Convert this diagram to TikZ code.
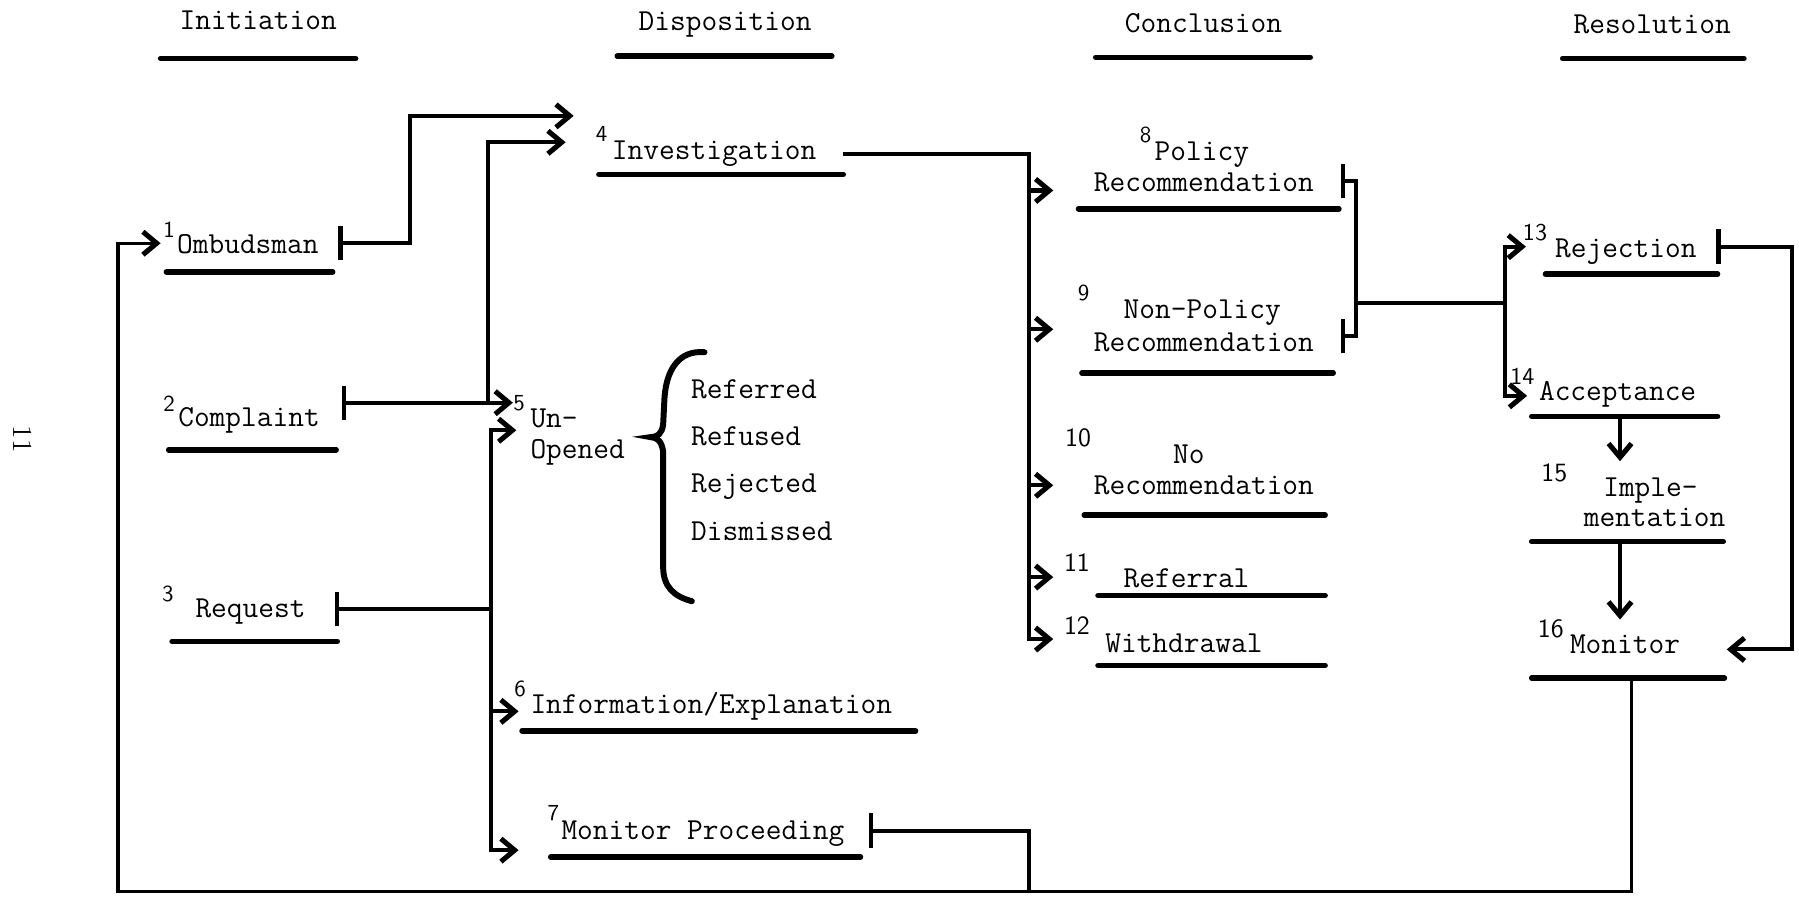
\documentclass[tikz,border=0pt]{standalone}
\usetikzlibrary{arrows.meta}
\begin{document}
\begin{tikzpicture}[x=0.5pt,y=-0.5pt,
  lbl/.style={anchor=base west,inner sep=0pt,font=\ttfamily\fontsize{13.3}{16}\selectfont},
  hdr/.style={anchor=base,inner sep=0pt,font=\ttfamily\fontsize{13.3}{16}\selectfont},
  sup/.style={anchor=base west,inner sep=0pt,font=\sffamily\fontsize{10}{12}\selectfont},
  bnum/.style={anchor=base west,inner sep=0pt,font=\sffamily\fontsize{11.5}{14}\selectfont},
  uline/.style={line width=2.4pt,line cap=round},
  conn/.style={line width=1.8pt},
  arr/.style={conn,-{Straight Barb[length=6pt,width=10pt,line width=2.2pt]}},
  arrboth/.style={conn,{Straight Barb[length=6pt,width=10pt,line width=2.2pt]}-{Straight Barb[length=6pt,width=10pt,line width=2.2pt]}},
  tee/.style={conn,{Bar[width=15pt]}-},
  teearr/.style={conn,{Bar[width=15pt]}-{Straight Barb[length=6pt,width=10pt,line width=2.2pt]}},
  teetee/.style={conn,{Bar[width=15pt]}-{Bar[width=15pt]}},
]
\useasboundingbox (0,0) rectangle (1568,781);

% page number
\node[inner sep=0pt,rotate=-90,font=\rmfamily\fontsize{12}{14}\selectfont] (pnum) at (20,383) {11};

% headers
\node[hdr] (hInit) at (225,26) {Initiation};
\node[hdr] (hDisp) at (632,27) {Disposition};
\node[hdr] (hConc) at (1049,28) {Conclusion};
\node[hdr] (hRes)  at (1440,29) {Resolution};
\draw[uline] (140,51) -- (310,51);
\draw[uline] (538,49) -- (725,49);
\draw[uline] (955,50) -- (1142,50);
\draw[uline] (1362,51) -- (1520,51);

% Initiation
\node[sup] (s1) at (142,207) {1};
\node[lbl] (n1) at (154,221) {Ombudsman};
\draw[uline] (145,237) -- (290,237);
\node[sup] (s2) at (142,359) {2};
\node[lbl] (n2) at (155,372) {Complaint};
\draw[uline] (147,392) -- (293,392);
\node[sup] (s3) at (141,524) {3};
\node[lbl] (n3) at (170,538) {Request};
\draw[uline] (150,559) -- (294,559);

% Disposition
\node[sup] (s4) at (519,123) {4};
\node[lbl] (n4) at (533,139) {Investigation};
\draw[uline] (522,152) -- (735,152);
\node[sup] (s5) at (447,358) {5};
\node[lbl] (n5a) at (462,373) {Un-};
\node[lbl] (n5b) at (462,400) {Opened};
\node[lbl] (r1) at (602,347) {Referred};
\node[lbl] (r2) at (602,388) {Refused};
\node[lbl] (r3) at (602,429) {Rejected};
\node[lbl] (r4) at (602,471) {Dismissed};
\draw[line width=2.6pt,line cap=round]
  (614,307) .. controls (592,305) and (580,322) .. (579,350) -- (578,370)
  .. controls (577,378) and (573,381) .. (567,381)
  .. controls (573,381) and (577,385) .. (578,394) -- (578,494)
  .. controls (578,512) and (588,520) .. (603,524);
\node[sup] (s6) at (448,607) {6};
\node[lbl] (n6) at (462,622) {Information/Explanation};
\draw[uline] (455,637) -- (798,637);
\node[sup] (s7) at (477,715) {7};
\node[lbl] (n7) at (489,732) {Monitor Proceeding};
\draw[uline] (480,747) -- (750,747);

% Conclusion
\node[sup] (s8) at (993,124) {8};
\node[lbl] (n8a) at (1006,140) {Policy};
\node[lbl] (n8b) at (953,167) {Recommendation};
\draw[uline] (940,182) -- (1167,182);
\node[sup] (s9) at (939,262) {9};
\node[lbl] (n9a) at (979,278) {Non-Policy};
\node[lbl] (n9b) at (953,306) {Recommendation};
\draw[uline] (943,325) -- (1162,325);
\node[bnum] (s10) at (928,389) {10};
\node[lbl] (n10a) at (1022,404) {No};
\node[lbl] (n10b) at (953,431) {Recommendation};
\draw[uline] (945,449) -- (1155,449);
\node[bnum] (s11) at (927,498) {11};
\node[lbl] (n11) at (979,512) {Referral};
\draw[uline] (957,519) -- (1155,519);
\node[bnum] (s12) at (927,553) {12};
\node[lbl] (n12) at (963,569) {Withdrawal};
\draw[uline] (957,580) -- (1155,580);

% Resolution
\node[sup,font=\sffamily\fontsize{10.5}{12}\selectfont] (s13) at (1327,210) {13};
\node[lbl] (n13) at (1355,224) {Rejection};
\draw[uline] (1347,239) -- (1497,239);
\node[sup,font=\sffamily\fontsize{10.5}{12}\selectfont] (s14) at (1316,335) {14};
\node[lbl] (n14) at (1341,349) {Acceptance};
\draw[uline] (1335,363) -- (1497,363);
\node[bnum] (s15) at (1343,420) {15};
\node[lbl] (n15a) at (1397,433) {Imple-};
\node[lbl] (n15b) at (1380,459) {mentation};
\draw[uline] (1335,472) -- (1502,472);
\node[bnum] (s16) at (1340,556) {16};
\node[lbl] (n16) at (1368,570) {Monitor};
\draw[uline] (1335,591) -- (1503,591);

% connector coordinates
\coordinate (monOut) at (1422,591);
\coordinate (ombIn) at (140,212);
\coordinate (ombT) at (295,212);
\coordinate (invIn1) at (500,101);
\coordinate (cmpT) at (298,351);
\coordinate (unIn1) at (447,351);
\coordinate (invIn2) at (493,124);
\coordinate (reqT) at (292,531);
\coordinate (unIn2) at (450,375);
\coordinate (infIn) at (452,620);
\coordinate (mpIn) at (452,741);
\coordinate (invOut) at (735,134);
\coordinate (pIn) at (918,166);
\coordinate (npIn) at (918,287);
\coordinate (noIn) at (918,423);
\coordinate (refIn) at (918,503);
\coordinate (wdIn) at (918,557);
\coordinate (polT) at (1169,158);
\coordinate (npolT) at (1169,293);
\coordinate (rejIn) at (1330,215);
\coordinate (accIn) at (1331,345);
\coordinate (rejT) at (1496,215);
\coordinate (monIn) at (1505,566);
\coordinate (accOut) at (1412,363);
\coordinate (impIn) at (1412,402);
\coordinate (impOut) at (1412,472);
\coordinate (monTop) at (1412,540);
\coordinate (mpT) at (757,724);

% feedback loop
\draw[line width=1.5pt,-{Straight Barb[length=6pt,width=10pt,line width=2.2pt]}] (monOut) -- (1422,777) -- (103,777) |- (ombIn);
\draw[tee] (mpT) -- (897,724) -- (897,777);

% initiation -> disposition
\draw[teearr] (ombT) -- (357,212) |- (invIn1);
\draw[teearr] (cmpT) -- (unIn1);
\draw[arr] (425,351) |- (invIn2);
\draw[tee] (reqT) -- (428,531);
\draw[arrboth] (unIn2) -- (428,375) -- (428,741) -- (mpIn);
\draw[arr] (428,620) -- (infIn);

% investigation -> conclusion
\draw[arr] (invOut) -- (897,134) -- (897,557) -- (wdIn);
\draw[arr] (897,166) -- (pIn);
\draw[arr] (897,287) -- (npIn);
\draw[arr] (897,423) -- (noIn);
\draw[arr] (897,503) -- (refIn);

% conclusion -> resolution
\draw[teetee] (polT) -- (1182,158) -- (1182,293) -- (npolT);
\draw[conn] (1182,264) -- (1312,264);
\draw[arrboth] (rejIn) -- (1312,215) -- (1312,345) -- (accIn);
\draw[teearr] (rejT) -- (1562,215) -- (1562,566) -- (monIn);
\draw[arr] (accOut) -- (impIn);
\draw[arr] (impOut) -- (monTop);
\end{tikzpicture}
\end{document}
